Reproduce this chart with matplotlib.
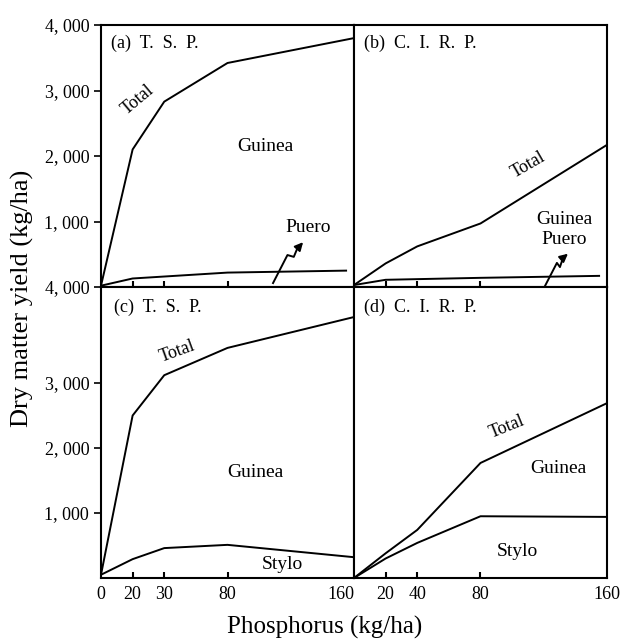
import numpy as np
import matplotlib.pyplot as plt

# Dados (kg/ha de matéria seca)
fosforo_tsp = [0, 20, 30, 80, 160]
fosforo_cirp = [0, 20, 40, 80, 160]
fosforo_puero = [0, 20, 30, 80, 155]
fosforo_puero_b = [0, 20, 40, 80, 155]

a_total = [20, 2100, 2830, 3420, 3800]
a_puero = [20, 130, 160, 220, 250]
b_total = [30, 360, 620, 970, 2170]
b_puero = [30, 110, 120, 140, 170]
c_total = [50, 2500, 3120, 3540, 4015]
c_stylo = [50, 290, 460, 510, 320]
d_total = [0, 380, 740, 1770, 2690]
d_stylo = [0, 300, 540, 950, 940]

yticks_top = [0, 1000, 2000, 3000, 4000]
ylabels_top = ['4, 000', '1, 000', '2, 000', '3, 000', '4, 000']
yticks_bot = [1000, 2000, 3000]
ylabels_bot = ['1, 000', '2, 000', '3, 000']

plt.rcParams['font.family'] = ['Liberation Serif', 'DejaVu Serif']

fig = plt.figure(figsize=(6.21, 6.41), dpi=100)

# posições dos eixos em fração da figura
esq, larg = 101 / 621, 253 / 621
topo_base, topo_alt = 1 - 287 / 641, 262 / 641
baixo_base, baixo_alt = 1 - 578 / 641, 291 / 641

ax_a = fig.add_axes([esq, topo_base, larg, topo_alt])
ax_b = fig.add_axes([esq + larg, topo_base, larg, topo_alt])
ax_c = fig.add_axes([esq, baixo_base, larg, baixo_alt])
ax_d = fig.add_axes([esq + larg, baixo_base, larg, baixo_alt])

# escala do T.S.P.: o 30 fica onde estaria o 40
def ida(x):
    return np.interp(x, [0, 20, 30, 80, 160], [0, 20, 40, 80, 160])

def volta(x):
    return np.interp(x, [0, 20, 40, 80, 160], [0, 20, 30, 80, 160])

for ax in [ax_a, ax_c]:
    ax.set_xscale('function', functions=(ida, volta))

lw = 1.4
ax_a.plot(fosforo_tsp, a_total, color='black', lw=lw)
ax_a.plot(fosforo_puero, a_puero, color='black', lw=lw)
ax_b.plot(fosforo_cirp, b_total, color='black', lw=lw)
ax_b.plot(fosforo_puero_b, b_puero, color='black', lw=lw)
ax_c.plot(fosforo_tsp, c_total, color='black', lw=lw)
ax_c.plot(fosforo_tsp, c_stylo, color='black', lw=lw)
ax_d.plot(fosforo_cirp, d_total, color='black', lw=lw)
ax_d.plot(fosforo_cirp, d_stylo, color='black', lw=lw)

for ax in [ax_a, ax_b, ax_c, ax_d]:
    ax.set_xlim(0, 160)
    for s in ax.spines.values():
        s.set_linewidth(1.5)
    ax.tick_params(axis='x', direction='in', length=4, width=1.5, labelsize=13, pad=6)
    ax.tick_params(axis='y', direction='out', length=5, width=1.2, labelsize=13)

for ax in [ax_a, ax_b]:
    ax.set_ylim(0, 4000)
for ax in [ax_c, ax_d]:
    ax.set_ylim(0, 4477)

ax_a.set_yticks(yticks_top)
ax_a.set_yticklabels(ylabels_top)
ax_c.set_yticks(yticks_bot)
ax_c.set_yticklabels(ylabels_bot)
for ax in [ax_b, ax_d]:
    ax.set_yticks([])

ax_a.set_xticks([20, 30, 80])
ax_a.set_xticklabels([])
ax_b.set_xticks([20, 40, 80])
ax_b.set_xticklabels([])

ax_c.set_xticks([0, 20, 30, 80, 160])
ax_c.set_xticklabels(['0', '20', '30', '80', '160'])
ax_c.get_xticklabels()[-1].set_horizontalalignment('right')
ax_d.set_xticks([20, 40, 80, 160])
ax_d.set_xticklabels(['20', '40', '80', '160'])
for t in ax_c.xaxis.get_major_ticks()[::4]:
    t.tick1line.set_visible(False)
ax_d.xaxis.get_major_ticks()[-1].tick1line.set_visible(False)

# textos dentro dos painéis
fs = 13
ax_a.text(0.04, 0.93, '(a)  T.  S.  P.', transform=ax_a.transAxes, fontsize=fs, va='center')
ax_b.text(0.04, 0.93, '(b)  C.  I.  R.  P.', transform=ax_b.transAxes, fontsize=fs, va='center')
ax_c.text(0.05, 0.93, '(c)  T.  S.  P.', transform=ax_c.transAxes, fontsize=fs, va='center')
ax_d.text(0.04, 0.93, '(d)  C.  I.  R.  P.', transform=ax_d.transAxes, fontsize=fs, va='center')

ax_a.text(0.147, 0.714, 'Total', transform=ax_a.transAxes, fontsize=fs, rotation=40, ha='center', va='center')
ax_a.text(0.648, 0.538, 'Guinea', transform=ax_a.transAxes, fontsize=fs + 1, ha='center', va='center')
ax_a.text(0.818, 0.229, 'Puero', transform=ax_a.transAxes, fontsize=fs + 1, ha='center', va='center')

ax_b.text(0.688, 0.466, 'Total', transform=ax_b.transAxes, fontsize=fs, rotation=30, ha='center', va='center')
ax_b.text(0.83, 0.256, 'Guinea', transform=ax_b.transAxes, fontsize=fs + 1, ha='center', va='center')
ax_b.text(0.83, 0.18, 'Puero', transform=ax_b.transAxes, fontsize=fs + 1, ha='center', va='center')

ax_c.text(0.3, 0.778, 'Total', transform=ax_c.transAxes, fontsize=fs, rotation=20, ha='center', va='center')
ax_c.text(0.609, 0.364, 'Guinea', transform=ax_c.transAxes, fontsize=fs + 1, ha='center', va='center')
ax_c.text(0.715, 0.045, 'Stylo', transform=ax_c.transAxes, fontsize=fs + 1, ha='center', va='center')

ax_d.text(0.605, 0.52, 'Total', transform=ax_d.transAxes, fontsize=fs, rotation=22, ha='center', va='center')
ax_d.text(0.806, 0.375, 'Guinea', transform=ax_d.transAxes, fontsize=fs + 1, ha='center', va='center')
ax_d.text(0.645, 0.09, 'Stylo', transform=ax_d.transAxes, fontsize=fs + 1, ha='center', va='center')

# setinhas onduladas apontando para o Puero
seta_a_x = [0.68, 0.737, 0.762, 0.775]
seta_a_y = [0.015, 0.122, 0.115, 0.145]
ax_a.plot(seta_a_x, seta_a_y, color='black', lw=1.4, transform=ax_a.transAxes, clip_on=False)
ax_a.annotate('', xy=(0.806, 0.179), xytext=(0.775, 0.145), xycoords='axes fraction',
              arrowprops=dict(arrowstyle='-|>', color='black', lw=1.4, mutation_scale=12))

seta_b_x = [0.755, 0.802, 0.814, 0.826]
seta_b_y = [0.004, 0.092, 0.076, 0.111]
ax_b.plot(seta_b_x, seta_b_y, color='black', lw=1.4, transform=ax_b.transAxes, clip_on=False)
ax_b.annotate('', xy=(0.854, 0.134), xytext=(0.826, 0.111), xycoords='axes fraction',
              arrowprops=dict(arrowstyle='-|>', color='black', lw=1.4, mutation_scale=12))

fig.text(22 / 621, 1 - 298 / 641, 'Dry matter yield (kg/ha)', rotation=90, fontsize=19,
         ha='center', va='center')
fig.text(325 / 621, 1 - 627 / 641, 'Phosphorus (kg/ha)', fontsize=18, ha='center', va='center')

plt.savefig('out.png', dpi=100)
